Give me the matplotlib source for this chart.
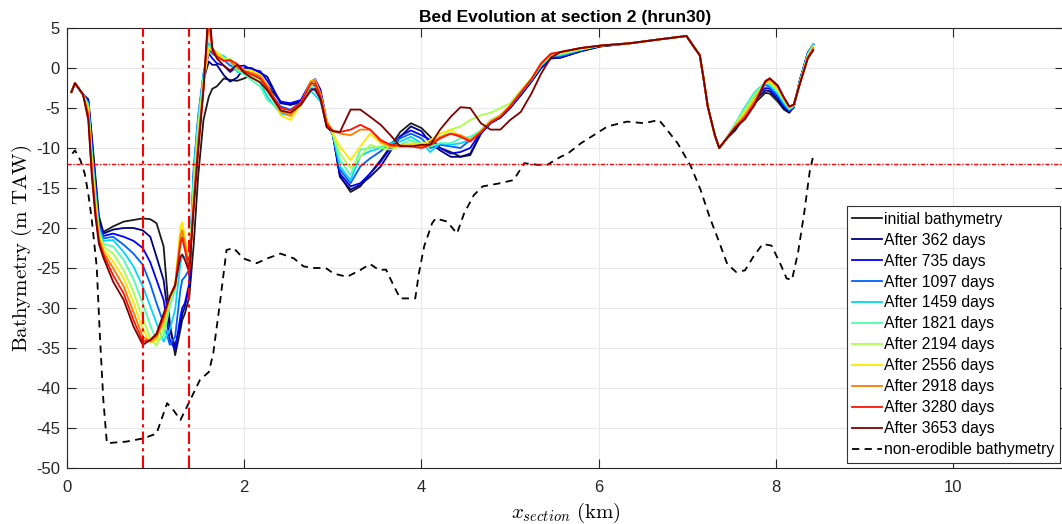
import matplotlib
matplotlib.use("Agg")
import matplotlib.pyplot as plt
import numpy as np

# Cross-shore distance along the section (km)
x_km = [0.05, 0.09, 0.18, 0.24, 0.28, 0.32, 0.36, 0.41, 0.52, 0.64,
        0.75, 0.855, 0.94, 1.01, 1.09, 1.16, 1.22, 1.28, 1.30, 1.33,
        1.38, 1.43, 1.48, 1.54, 1.60, 1.64, 1.69, 1.77, 1.84, 1.92,
        2.00, 2.08, 2.18, 2.26, 2.41, 2.52, 2.64, 2.75, 2.80, 2.86,
        2.93, 3.00, 3.08, 3.20, 3.31, 3.42, 3.54, 3.65, 3.76, 3.88,
        4.00, 4.10, 4.21, 4.33, 4.44, 4.55, 4.67, 4.78, 4.89, 5.00,
        5.12, 5.24, 5.35, 5.46, 5.57, 5.80, 6.02, 6.36, 6.70, 6.99,
        7.07, 7.14, 7.18, 7.23, 7.31, 7.36, 7.43, 7.54, 7.65, 7.76,
        7.88, 7.93, 8.02, 8.09, 8.15, 8.20, 8.27, 8.36, 8.42]

# Bed level (m TAW) per output time
bed_initial = [-3.0, -1.9, -3.3, -3.9, -8.5, -13.5, -18.5, -20.5, -19.8, -19.2,
               -19.0, -18.8, -18.9, -19.4, -22.3, -31.9, -35.9, -32.7, -31.5, -30.7,
               -28.6, -22.0, -13.5, -6.5, -3.6, -2.6, -2.3, -1.3, -1.5, -1.6,
               -1.3, -0.8, -1.5, -2.2, -4.2, -4.6, -4.3, -1.9, -2.2, -3.8,
               -7.3, -8.2, -13.5, -15.5, -14.8, -13.2, -11.5, -9.8, -8.0, -6.9,
               -7.5, -8.6, -10.0, -10.5, -11.1, -10.9, -8.2, -6.8, -6.2, -5.0,
               -3.4, -1.7, 0.0, 1.2, 1.3, 2.1, 2.7, 3.1, 3.6, 4.0,
               2.7, 1.6, -1.1, -4.8, -8.4, -10.0, -9.0, -7.8, -6.0, -4.4,
               -3.1, -3.2, -4.2, -5.2, -5.6, -4.9, -1.5, 1.9, 2.9]
bed_362 = [-3.0, -1.9, -3.3, -4.0, -9.0, -14.0, -19.0, -20.7, -20.2, -20.0,
           -20.0, -20.3, -21.1, -23.6, -26.5, -32.7, -34.8, -31.9, -30.8, -29.8,
           -27.3, -13.5, -7.0, -1.5, 0.8, 0.4, 0.4, -0.9, -1.7, -1.2,
           0.0, 0.0, -0.6, -1.1, -4.4, -4.6, -4.2, -1.8, -1.5, -3.0,
           -6.8, -8.4, -13.6, -15.2, -14.6, -13.6, -12.3, -10.4, -8.6, -7.3,
           -7.9, -9.4, -10.3, -11.1, -11.1, -10.7, -8.2, -6.9, -6.2, -5.0,
           -3.4, -1.7, 0.0, 1.2, 1.3, 2.1, 2.7, 3.1, 3.6, 4.0,
           2.7, 1.6, -1.1, -4.8, -8.4, -10.0, -9.0, -7.6, -5.7, -4.0,
           -2.8, -2.9, -3.9, -5.0, -5.5, -4.9, -1.5, 1.9, 2.9]
bed_735 = [-3.0, -1.9, -3.3, -4.1, -9.5, -14.5, -19.3, -21.0, -20.7, -21.1,
           -21.6, -22.5, -24.3, -26.5, -29.0, -34.0, -35.2, -31.1, -30.0, -29.4,
           -26.9, -13.0, -6.5, -1.0, 1.8, 1.2, 0.6, 0.3, -0.5, 0.2,
           0.3, -0.2, -0.4, -1.6, -4.2, -4.4, -4.0, -1.7, -1.4, -2.7,
           -6.5, -8.3, -13.2, -14.8, -14.4, -13.2, -11.7, -10.0, -8.5, -7.8,
           -8.4, -9.0, -10.0, -10.7, -10.5, -10.0, -8.0, -6.8, -6.1, -4.9,
           -3.3, -1.6, 0.1, 1.3, 1.4, 2.2, 2.8, 3.1, 3.6, 4.0,
           2.7, 1.6, -1.1, -4.8, -8.4, -10.0, -9.0, -7.3, -5.3, -3.6,
           -2.5, -2.6, -3.6, -4.8, -5.4, -4.9, -1.6, 1.9, 2.9]
bed_1097 = [-3.0, -1.9, -3.3, -4.3, -10.0, -15.0, -19.6, -21.3, -21.1, -22.1,
            -23.2, -24.6, -27.0, -29.4, -31.9, -34.6, -33.6, -27.7, -26.5, -26.1,
            -25.2, -12.5, -6.0, -0.7, 2.3, 1.8, 1.4, 1.0, 0.3, 0.0,
            -0.2, -0.7, -1.3, -2.6, -4.8, -5.2, -4.3, -2.5, -2.8, -3.8,
            -6.8, -8.4, -12.7, -14.4, -12.3, -11.3, -10.4, -9.4, -8.8, -8.2,
            -8.8, -10.0, -9.6, -9.8, -10.0, -9.0, -7.8, -6.7, -6.0, -4.8,
            -3.2, -1.5, 0.2, 1.4, 1.5, 2.2, 2.8, 3.1, 3.6, 4.0,
            2.7, 1.6, -1.1, -4.8, -8.4, -10.0, -9.0, -7.1, -5.0, -3.2,
            -2.1, -2.4, -3.4, -4.6, -5.3, -4.8, -1.6, 1.9, 2.9]
bed_1459 = [-3.0, -1.9, -3.3, -4.5, -10.5, -15.5, -20.0, -21.6, -21.5, -23.0,
            -24.8, -27.3, -29.8, -31.9, -34.2, -32.7, -30.2, -24.4, -23.5, -23.6,
            -24.4, -13.0, -6.3, -0.8, 3.1, 2.5, 1.8, 1.5, 0.8, -0.5,
            -0.6, -1.0, -1.8, -3.6, -5.7, -5.9, -4.6, -2.9, -3.4, -4.2,
            -6.8, -8.3, -12.3, -14.0, -11.0, -10.4, -10.0, -9.4, -9.2, -8.6,
            -9.4, -10.5, -9.4, -9.6, -9.4, -9.0, -7.8, -6.6, -5.9, -4.8,
            -3.1, -1.5, 0.3, 1.5, 1.6, 2.3, 2.8, 3.1, 3.6, 4.0,
            2.7, 1.6, -1.1, -4.8, -8.4, -10.0, -9.0, -7.0, -4.9, -3.0,
            -1.8, -2.2, -3.2, -4.4, -5.2, -4.8, -1.7, 1.8, 3.0]
bed_1821 = [-3.0, -1.9, -3.3, -4.7, -11.0, -16.0, -20.3, -22.0, -22.3, -24.0,
            -26.4, -29.4, -32.2, -34.0, -33.6, -29.8, -27.7, -22.3, -21.0, -21.9,
            -24.8, -14.0, -7.0, -1.2, 2.8, 2.4, 2.0, 1.3, 1.0, -0.3,
            -0.8, -1.5, -2.3, -4.0, -5.3, -5.6, -4.3, -2.3, -2.5, -3.6,
            -6.6, -8.3, -11.5, -13.4, -10.2, -10.0, -9.8, -9.8, -9.6, -9.0,
            -9.6, -9.8, -9.4, -9.4, -8.8, -8.6, -7.8, -6.5, -5.9, -4.7,
            -3.0, -1.4, 0.4, 1.5, 1.7, 2.3, 2.8, 3.1, 3.6, 4.0,
            2.7, 1.6, -1.1, -4.8, -8.4, -10.0, -9.0, -7.0, -5.0, -3.1,
            -1.8, -2.0, -3.0, -4.2, -5.1, -4.7, -1.7, 1.7, 2.8]
bed_2194 = [-3.0, -1.9, -3.3, -5.0, -11.5, -16.5, -20.6, -22.3, -23.2, -25.3,
            -28.0, -31.3, -33.8, -34.7, -32.7, -29.0, -27.3, -20.7, -20.0, -21.5,
            -24.8, -15.0, -7.8, -1.6, 2.5, 2.2, 2.0, 1.2, 1.1, 0.3,
            -0.4, -0.9, -1.6, -3.0, -5.4, -5.8, -4.4, -2.0, -2.0, -3.4,
            -6.5, -8.2, -10.7, -12.5, -11.1, -9.6, -10.0, -10.2, -9.8, -9.4,
            -9.4, -9.6, -8.8, -7.7, -7.3, -6.5, -5.9, -5.6, -5.0, -4.4,
            -2.8, -1.3, 0.5, 1.6, 1.8, 2.4, 2.8, 3.1, 3.6, 4.0,
            2.7, 1.6, -1.1, -4.8, -8.4, -10.0, -9.0, -7.1, -5.3, -3.4,
            -1.9, -1.8, -2.8, -4.0, -5.0, -4.7, -1.8, 1.6, 2.7]
bed_2556 = [-3.0, -1.9, -3.3, -5.3, -12.0, -17.0, -21.0, -22.6, -24.2, -26.3,
            -29.3, -32.6, -34.3, -34.0, -31.9, -28.6, -27.1, -19.8, -19.3, -21.1,
            -24.8, -15.8, -8.5, -2.0, 2.5, 2.2, 2.0, 1.0, 1.0, 0.2,
            -0.2, -0.3, -0.9, -2.1, -5.9, -6.5, -4.6, -1.6, -1.5, -3.2,
            -6.6, -8.2, -9.8, -11.5, -9.8, -8.2, -9.4, -9.9, -9.7, -9.6,
            -9.6, -9.0, -8.2, -7.7, -8.6, -9.0, -7.9, -6.6, -5.9, -4.7,
            -2.9, -1.3, 0.5, 1.7, 1.9, 2.4, 2.8, 3.1, 3.6, 4.0,
            2.7, 1.6, -1.1, -4.8, -8.4, -10.0, -9.0, -7.2, -5.6, -3.8,
            -1.9, -1.6, -2.6, -3.9, -4.9, -4.6, -1.8, 1.5, 2.6]
bed_2918 = [-3.0, -1.9, -3.3, -5.6, -12.5, -17.5, -21.3, -23.0, -25.0, -27.3,
            -30.5, -33.6, -34.2, -33.6, -31.5, -28.6, -27.1, -21.1, -20.3, -21.9,
            -25.2, -16.5, -9.2, -2.4, 5.5, 2.5, 1.6, 0.9, 0.9, 0.0,
            -0.5, -0.6, -1.0, -2.2, -5.4, -6.0, -4.4, -1.7, -1.6, -3.3,
            -6.8, -7.8, -8.2, -8.4, -7.7, -7.7, -9.2, -9.8, -9.7, -9.7,
            -9.8, -9.4, -8.6, -8.2, -8.4, -9.0, -8.0, -6.7, -6.0, -4.7,
            -3.0, -1.4, 0.5, 1.7, 2.0, 2.5, 2.8, 3.1, 3.6, 4.0,
            2.7, 1.6, -1.1, -4.8, -8.4, -10.0, -9.0, -7.3, -5.9, -4.1,
            -1.8, -1.4, -2.4, -3.8, -4.9, -4.6, -1.9, 1.4, 2.5]
bed_3280 = [-3.0, -1.9, -3.3, -6.0, -13.0, -18.0, -21.6, -23.3, -25.9, -28.2,
            -31.5, -34.2, -34.0, -33.4, -31.1, -28.6, -27.3, -21.9, -21.2, -22.7,
            -25.2, -17.0, -9.8, -2.5, 7.0, 2.0, 1.4, 0.9, 1.0, 0.5,
            -0.4, -0.8, -1.3, -2.5, -5.0, -5.3, -4.3, -2.0, -1.9, -3.6,
            -7.0, -7.9, -8.0, -7.7, -7.1, -7.7, -9.0, -9.6, -9.7, -9.8,
            -10.0, -9.6, -8.8, -8.2, -8.6, -9.2, -8.0, -6.8, -6.1, -4.8,
            -3.1, -1.4, 0.6, 1.8, 2.0, 2.5, 2.8, 3.1, 3.6, 4.0,
            2.7, 1.6, -1.1, -4.8, -8.4, -10.0, -9.0, -7.4, -6.2, -4.4,
            -1.6, -1.3, -2.2, -3.7, -4.8, -4.6, -1.9, 1.3, 2.3]
bed_3653 = [-3.0, -1.9, -3.3, -6.5, -13.5, -18.5, -22.0, -23.7, -26.7, -29.0,
            -32.3, -34.6, -34.0, -33.2, -30.7, -28.6, -27.1, -23.6, -23.3, -24.0,
            -25.5, -17.5, -10.5, -2.8, 8.0, 2.5, 1.2, 0.3, -0.3, 0.4,
            -0.6, -1.2, -1.8, -2.8, -5.3, -5.6, -4.6, -2.8, -2.6, -3.9,
            -7.4, -7.9, -8.0, -5.2, -5.2, -6.1, -7.1, -8.4, -9.8, -9.8,
            -9.6, -9.6, -7.7, -6.1, -4.9, -5.0, -6.9, -7.7, -7.7, -6.5,
            -5.5, -3.2, -0.7, 1.3, 2.0, 2.5, 2.8, 3.1, 3.6, 4.0,
            2.7, 1.6, -1.1, -4.8, -8.4, -10.0, -9.0, -7.5, -6.4, -4.6,
            -1.7, -1.3, -2.2, -3.7, -4.8, -4.6, -2.0, 1.2, 2.2]

# Non-erodible layer
x_fixed = [0.06, 0.09, 0.15, 0.20, 0.24, 0.28, 0.335, 0.37, 0.41, 0.45,
           0.67, 0.86, 1.01, 1.13, 1.20, 1.28, 1.39, 1.50, 1.60, 1.65,
           1.73, 1.80, 1.88, 1.99, 2.14, 2.26, 2.41, 2.56, 2.67, 2.78,
           2.92, 3.01, 3.16, 3.31, 3.42, 3.52, 3.60, 3.69, 3.76, 3.93,
           3.97, 4.03, 4.12, 4.16, 4.29, 4.40, 4.48, 4.59, 4.69, 4.89,
           5.04, 5.16, 5.31, 5.42, 5.57, 5.65, 5.80, 6.10, 6.32, 6.51,
           6.68, 6.74, 6.89, 7.04, 7.15, 7.25, 7.35, 7.45, 7.55, 7.65,
           7.75, 7.85, 7.95, 8.05, 8.12, 8.18, 8.25, 8.32, 8.38, 8.42]
bed_fixed = [-10.7, -10.3, -11.5, -13.2, -15.7, -19.0, -24.8, -33.2, -41.5, -46.9,
             -46.7, -46.3, -45.7, -41.9, -42.75, -44.0, -41.5, -39.0, -38.0, -35.7,
             -29.0, -22.75, -22.5, -23.8, -24.4, -23.8, -23.2, -23.8, -24.8, -25.0,
             -25.0, -25.7, -26.1, -25.25, -24.5, -25.25, -25.2, -27.3, -28.8, -28.8,
             -25.7, -22.3, -19.4, -18.8, -19.2, -20.7, -18.2, -15.9, -14.8, -14.4,
             -14.0, -11.9, -12.1, -12.1, -11.1, -10.7, -9.4, -7.3, -6.7, -6.9,
             -6.5, -7.3, -9.4, -12.3, -15.25, -18.6, -21.5, -24.5, -25.5, -25.3,
             -23.5, -22.0, -22.2, -24.5, -26.3, -26.5, -23.0, -18.0, -13.0, -11.0]

day_labels = ["After 362 days", "After 735 days", "After 1097 days",
              "After 1459 days", "After 1821 days", "After 2194 days",
              "After 2556 days", "After 2918 days", "After 3280 days",
              "After 3653 days"]
day_series = [bed_362, bed_735, bed_1097, bed_1459, bed_1821,
              bed_2194, bed_2556, bed_2918, bed_3280, bed_3653]

# Limits of the studied zone and reference level
zone_edges_km = [0.855, 1.38]
reference_level = -12.0

plt.rcParams["font.family"] = ["Liberation Sans", "DejaVu Sans"]
plt.rcParams["mathtext.fontset"] = "cm"
plt.rcParams["axes.unicode_minus"] = False

fig = plt.figure(figsize=(10.62, 5.24), dpi=100)
ax = fig.add_axes([67 / 1062, 1 - 468 / 524, (1064 - 67) / 1062, 440 / 524])

ax.plot(x_km, bed_initial, color="#1a1a1a", lw=1.3, label="initial bathymetry", zorder=3)
colors = plt.cm.jet(np.linspace(0, 1, len(day_series)))
for series, lab, c in zip(day_series, day_labels, colors):
    ax.plot(x_km, series, color=c, lw=1.3, label=lab, zorder=3)
ax.plot(x_fixed, bed_fixed, color="black", lw=1.3, ls=(0, (4, 3)),
        label="non-erodible bathymetry", zorder=3)

for xe in zone_edges_km:
    ax.axvline(xe, color="red", lw=1.5, ls=(0, (6, 2, 1.5, 2)), zorder=4)
ax.axhline(reference_level, color="red", lw=1.0, ls=(0, (3, 1.2, 1, 1.2)), zorder=4)

ax.set_xlim(0, 11.25)
ax.set_ylim(-50, 5)
ax.set_xticks([0, 2, 4, 6, 8, 10])
ax.set_yticks(np.arange(-50, 6, 5))
ax.grid(True, color="#e8e8e8", lw=0.8, zorder=0)
ax.set_axisbelow(True)
ax.tick_params(direction="in", length=6.5, width=0.8, colors="#262626",
               labelsize=12, top=True, right=True)
ax.tick_params(axis="x", pad=9)
ax.tick_params(axis="y", pad=5)
for sp in ax.spines.values():
    sp.set_color("#262626")
    sp.set_linewidth(0.8)

ax.set_title("Bed Evolution at section 2 (hrun30)", fontsize=12.5,
             fontweight="bold", pad=4)
ax.set_ylabel(r"$\mathrm{Bathymetry\ (m\ TAW)}$", fontsize=15, labelpad=1.5)
ax.set_xlabel(r"$x_{section}\ \mathrm{(km)}$", fontsize=15, labelpad=4)

leg = ax.legend(loc="lower right", bbox_to_anchor=(0.9955, 0.012),
                fontsize=11.3, handlelength=1.9, handletextpad=0.12,
                labelspacing=0.38, borderpad=0.35, borderaxespad=0.0,
                fancybox=False, framealpha=1.0, edgecolor="#333333")
leg.get_frame().set_linewidth(0.8)

fig.savefig("out.png", dpi=100)
